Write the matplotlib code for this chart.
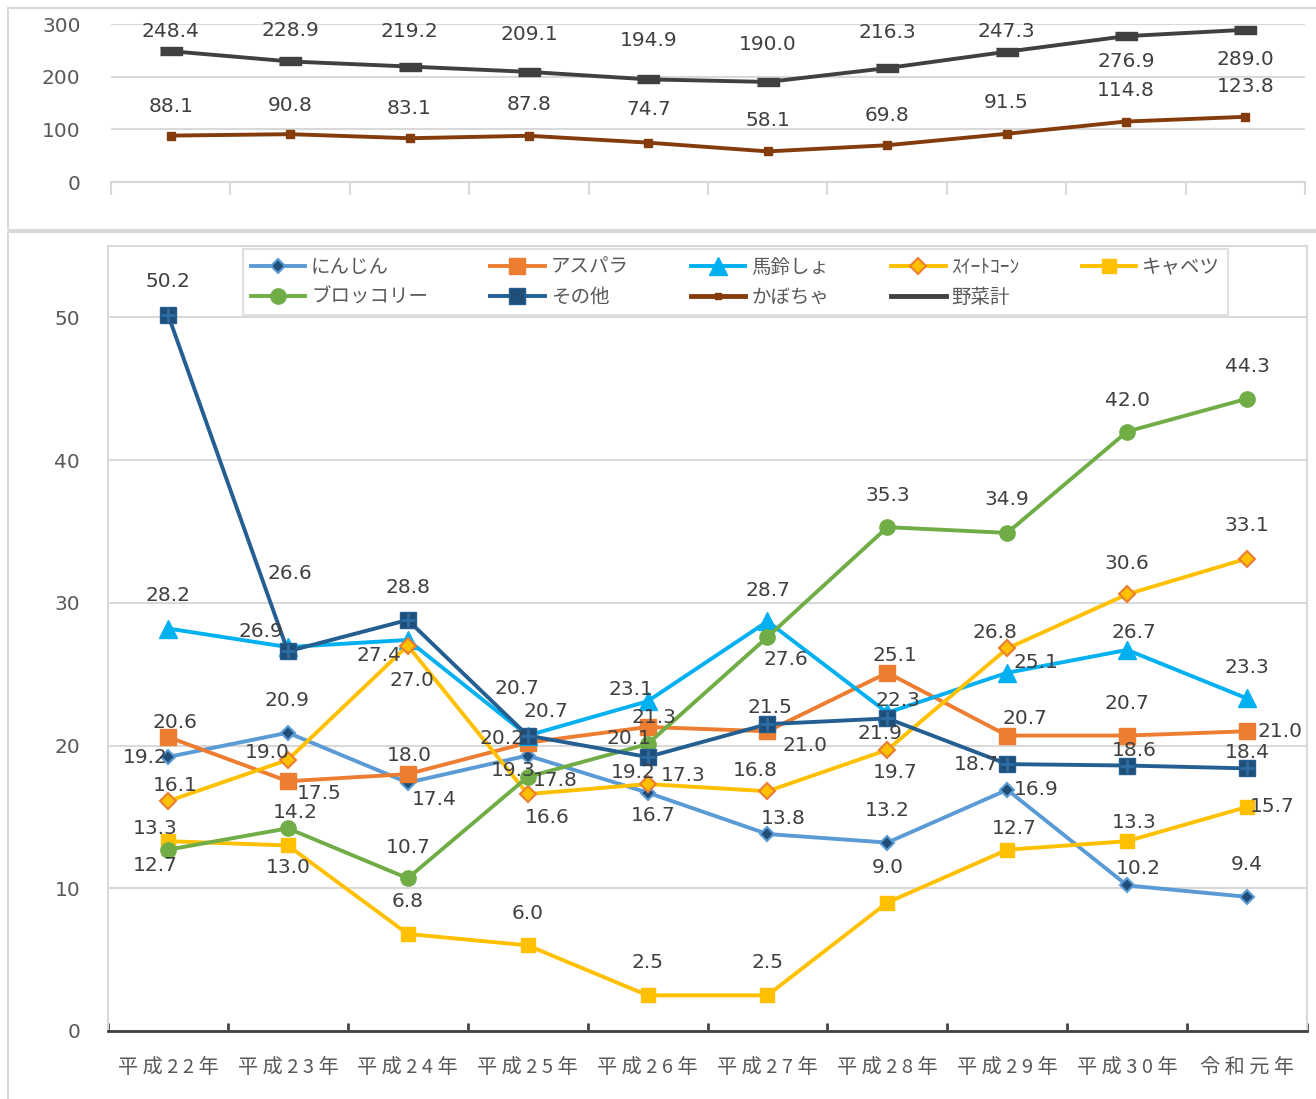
import matplotlib
matplotlib.use('Agg')
import matplotlib.pyplot as plt
from matplotlib.lines import Line2D
from matplotlib.patches import Rectangle
import numpy as np

plt.rcParams['font.family'] = ['Noto Sans CJK JP', 'DejaVu Sans']

years = ['平成22年', '平成23年', '平成24年', '平成25年', '平成26年',
         '平成27年', '平成28年', '平成29年', '平成30年', '令和元年']

# bottom panel series
ninjin = [19.2, 20.9, 17.4, 19.3, 16.7, 13.8, 13.2, 16.9, 10.2, 9.4]
asupara = [20.6, 17.5, 18.0, 20.2, 21.3, 21.0, 25.1, 20.7, 20.7, 21.0]
bareisho = [28.2, 26.9, 27.4, 20.7, 23.1, 28.7, 22.3, 25.1, 26.7, 23.3]
sweetcorn = [16.1, 19.0, 27.0, 16.6, 17.3, 16.8, 19.7, 26.8, 30.6, 33.1]
kyabetsu = [13.3, 13.0, 6.8, 6.0, 2.5, 2.5, 9.0, 12.7, 13.3, 15.7]
broccoli = [12.7, 14.2, 10.7, 17.8, 20.1, 27.6, 35.3, 34.9, 42.0, 44.3]
sonota = [50.2, 26.6, 28.8, 20.7, 19.2, 21.5, 21.9, 18.7, 18.6, 18.4]

# top panel series
kabocha = [88.1, 90.8, 83.1, 87.8, 74.7, 58.1, 69.8, 91.5, 114.8, 123.8]
yasai_kei = [248.4, 228.9, 219.2, 209.1, 194.9, 190.0, 216.3, 247.3, 276.9, 289.0]

# label offsets (pixels, dy up)
off_ninjin = [(-23, -1), (-1, 32), (27, -17), (-14, -15), (6, -23), (16, 16), (0, 32), (29, 0), (11, 17), (0, 32)]
off_asupara = [(7, 14), (31, -12), (2, 19), (-26, 4), (6, 9), (38, -14), (8, 17), (18, 17), (0, 32), (33, 0)]
off_bareisho = [(0, 33), (-27, 16), (-29, -16), (-11, 47), (-17, 12), (0, 31), (11, 12), (29, 10), (7, 17), (0, 31)]
off_sweetcorn = [(7, 16), (-21, 7), (4, -35), (20, -23), (36, 9), (-12, 21), (8, -23), (-12, 16), (0, 31), (0, 33)]
off_kyabetsu = [(-13, 13), (0, -22), (0, 32), (0, 32), (0, 33), (0, 33), (0, 35), (7, 21), (7, 19), (25, 0)]
off_broccoli = [(-13, -16), (7, 16), (0, 31), (28, -4), (-19, 6), (18, -22), (0, 32), (0, 33), (0, 31), (0, 32)]
off_sonota = [(0, 33), (2, 78), (0, 32), (18, 24), (-14, -16), (2, 17), (-7, -15), (-31, 0), (7, 15), (0, 16)]
off_kabocha = [(0, 29), (0, 29), (0, 30), (0, 31), (0, 33), (0, 31), (0, 30), (0, 31), (0, 31), (0, 30)]
off_kei = [(0, 20), (0, 31), (0, 35), (0, 37), (0, 39), (0, 37), (0, 36), (0, 20), (0, -25), (0, -30)]

TXT = '#404040'
TICK = '#595959'
GRID = '#d9d9d9'
NUM_FONT = 'DejaVu Sans'
LABEL_SIZE = 14.5

fig = plt.figure(figsize=(13.16, 10.99), dpi=100)
W, H = 1316, 1099

# panel frames
fig.add_artist(Rectangle((8 / W, 1 - 230 / H), 1.0, 222 / H, transform=fig.transFigure,
                         fill=False, ec=GRID, lw=1.5))
fig.add_artist(Rectangle((8 / W, -0.01), 1.0, 1 - 232 / H + 0.01, transform=fig.transFigure,
                         fill=False, ec=GRID, lw=1.5))

ax_top = fig.add_axes([111 / W, 1 - 182 / H, (1305 - 111) / W, (182 - 24) / H])
ax = fig.add_axes([108 / W, 1 - 1031 / H, (1307 - 108) / W, (1031 - 246) / H])

x = np.arange(len(years))


def label_points(a, vals, offs, zorder=10):
    for xi, v, (dx, dy) in zip(x, vals, offs):
        a.annotate(f'{v:.1f}', (xi, v), xytext=(dx, dy), textcoords='offset pixels',
                   ha='center', va='center', fontsize=LABEL_SIZE, color=TXT,
                   family=NUM_FONT, zorder=zorder)


# ---- top panel ----
kei_marker = [(-3, -1), (3, -1), (3, 1), (-3, 1)]
ax_top.plot(x, kabocha, color='#843C0C', lw=2.8, marker='s', ms=6, zorder=3)
ax_top.plot(x, yasai_kei, color='#404040', lw=2.8, marker=kei_marker, ms=16, zorder=3)
label_points(ax_top, kabocha, off_kabocha)
label_points(ax_top, yasai_kei, off_kei)

ax_top.set_xlim(-0.5, len(years) - 0.5)
ax_top.set_ylim(0, 300)
ax_top.set_yticks([0, 100, 200, 300])
ax_top.yaxis.grid(True, color=GRID, lw=1.5)
ax_top.set_axisbelow(True)
for s in ['left', 'top', 'right']:
    ax_top.spines[s].set_visible(False)
ax_top.spines['bottom'].set_color(GRID)
ax_top.spines['bottom'].set_linewidth(1.5)
ax_top.set_xticks(x)
ax_top.set_xticklabels([])
ax_top.set_xticks(np.arange(-0.5, len(years)), minor=True)
ax_top.tick_params(axis='x', which='major', length=0)
ax_top.tick_params(axis='x', which='minor', direction='out', length=9, color=GRID, width=1.5)
ax_top.tick_params(axis='y', length=0, pad=22, labelsize=14.5, labelcolor=TICK)
for lbl in ax_top.get_yticklabels():
    lbl.set_family(NUM_FONT)

# ---- bottom panel ----
lines = []
lines.append(ax.plot(x, ninjin, color='#5B9BD5', lw=2.8, marker='D', ms=7.5,
                     mfc='#1F4E79', mec='#5B9BD5', mew=1.5, zorder=3, label='にんじん')[0])
lines.append(ax.plot(x, asupara, color='#ED7D31', lw=2.8, marker='s', ms=11,
                     mfc='#ED7D31', mec='#ED7D31', zorder=3, label='アスパラ')[0])
lines.append(ax.plot(x, bareisho, color='#00B0F0', lw=2.8, marker='^', ms=13,
                     mfc='#00B0F0', mec='#00B0F0', zorder=3, label='馬鈴しょ')[0])
lines.append(ax.plot(x, sweetcorn, color='#FFC000', lw=2.8, marker='D', ms=8,
                     mfc='#FFC000', mec='#ED7D31', mew=1.5, zorder=3, label='ｽｲｰﾄｺｰﾝ')[0])
lines.append(ax.plot(x, kyabetsu, color='#FFC000', lw=2.8, marker='s', ms=10.5,
                     mfc='#FFC000', mec='#FFC000', zorder=3, label='キャベツ')[0])
lines.append(ax.plot(x, broccoli, color='#70AD47', lw=2.8, marker='o', ms=11,
                     mfc='#70AD47', mec='#70AD47', zorder=3, label='ブロッコリー')[0])
lines.append(ax.plot(x, sonota, color='#255E91', lw=2.8, marker='s', ms=12,
                     mfc='#1F4E79', mec='#255E91', zorder=3, label='その他')[0])
ax.plot(x, sonota, ls='none', marker='+', ms=10, mew=2, color='#2E6DA4', zorder=3.1)

label_points(ax, ninjin, off_ninjin)
label_points(ax, asupara, off_asupara)
label_points(ax, bareisho, off_bareisho)
label_points(ax, sweetcorn, off_sweetcorn)
label_points(ax, kyabetsu, off_kyabetsu)
label_points(ax, broccoli, off_broccoli)
label_points(ax, sonota, off_sonota)

ax.set_xlim(-0.5, len(years) - 0.5)
ax.set_ylim(0, 55)
ax.set_yticks([0, 10, 20, 30, 40, 50])
ax.yaxis.grid(True, color=GRID, lw=1.5)
ax.set_axisbelow(True)
for s in ['left', 'top', 'right']:
    ax.spines[s].set_color(GRID)
    ax.spines[s].set_linewidth(1.5)
ax.spines['bottom'].set_color('#404040')
ax.spines['bottom'].set_linewidth(2)
ax.set_xticks(x)
ax.set_xticklabels([' '.join(y) for y in years])
ax.set_xticks(np.arange(-0.5, len(years)), minor=True)
ax.tick_params(axis='x', which='major', length=0, pad=19, labelsize=14.5, labelcolor=TICK)
ax.tick_params(axis='x', which='minor', direction='in', length=6, color='#404040', width=2)
ax.tick_params(axis='y', length=0, pad=20, labelsize=14.5, labelcolor=TICK)
for lbl in ax.get_yticklabels():
    lbl.set_family(NUM_FONT)

# legend: row-major order like the original
extra = [Line2D([], [], color='#843C0C', lw=3.5, marker='s', ms=5, label='かぼちゃ'),
         Line2D([], [], color='#404040', lw=3.5, label='野菜計')]
handles = lines + extra
order = [0, 5, 1, 6, 2, 7, 3, 8, 4]
leg = ax.legend([handles[i] for i in order], [handles[i].get_label() for i in order],
                ncol=5, loc='upper left', bbox_to_anchor=(243 / W, 1 - 249 / H),
                bbox_transform=fig.transFigure, frameon=True, fancybox=False,
                edgecolor=GRID, fontsize=14, handlelength=2.8, handletextpad=0.3,
                columnspacing=3.2, borderpad=0.4, labelspacing=0.45, borderaxespad=0)
leg.get_frame().set_linewidth(1.5)
for t in leg.get_texts():
    t.set_color(TICK)

fig.savefig('out.png', dpi=100)
